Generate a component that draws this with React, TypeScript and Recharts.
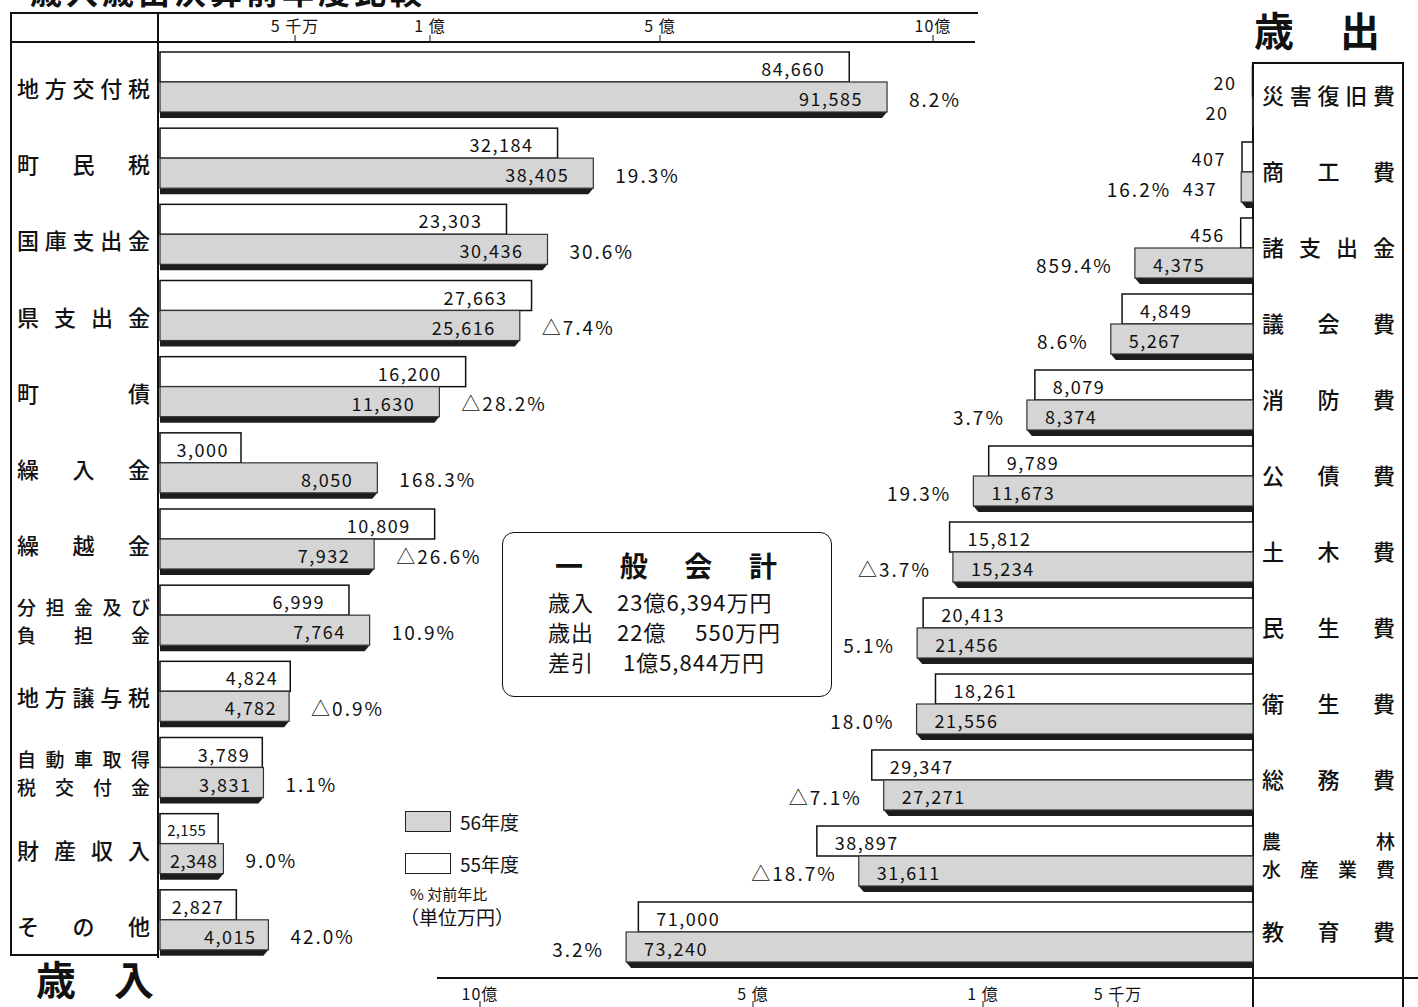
import { BarChart, Bar, XAxis, YAxis } from 'recharts';

// 歳入（万円）
const revenueNames = [
  '地方交付税', '町民税', '国庫支出金', '県支出金', '町債', '繰入金',
  '繰越金', '分担金及び\n負担金', '地方譲与税', '自動車取得\n税交付金', '財産収入', 'その他',
];
const revenue55 = [84660, 32184, 23303, 27663, 16200, 3000, 10809, 6999, 4824, 3789, 2155, 2827];
const revenue56 = [91585, 38405, 30436, 25616, 11630, 8050, 7932, 7764, 4782, 3831, 2348, 4015];
const revenueChange = ['8.2%', '19.3%', '30.6%', '△7.4%', '△28.2%', '168.3%', '△26.6%', '10.9%', '△0.9%', '1.1%', '9.0%', '42.0%'];

// 歳出（万円）
const expenseNames = [
  '災害復旧費', '商工費', '諸支出金', '議会費', '消防費', '公債費',
  '土木費', '民生費', '衛生費', '総務費', '農林\n水産業費', '教育費',
];
const expense55 = [20, 407, 456, 4849, 8079, 9789, 15812, 20413, 18261, 29347, 38897, 71000];
const expense56 = [20, 437, 4375, 5267, 8374, 11673, 15234, 21456, 21556, 27271, 31611, 73240];
const expenseChange = ['', '16.2%', '859.4%', '8.6%', '3.7%', '19.3%', '△3.7%', '5.1%', '18.0%', '△7.1%', '△18.7%', '3.2%'];

const tickValues = [5000, 10000, 50000, 100000];
const tickLabels = ['5 千万', '1 億', '5 億', '10億'];

const FONT = '"Noto Sans CJK JP", "Noto Sans", sans-serif';
const GRAY = '#d5d5d5';

// 原図の目盛りは区間ごとに縮尺が違う（〜1億 / 1億〜5億 / 5億〜）
const pos = (v: number) => {
  if (v <= 10000) return v * 0.027;
  if (v <= 50000) return 270 + (v - 10000) * 0.00575;
  return 500 + (v - 50000) * 0.00546;
};

const fmt = (v: number) => v.toLocaleString('en-US');

const makeRows = (names: string[], a: number[], b: number[], c: string[]) =>
  names.map((name, i) => ({ name, v55: a[i], v56: b[i], p55: pos(a[i]), p56: pos(b[i]), change: c[i] }));

const revenueRows = makeRows(revenueNames, revenue55, revenue56, revenueChange);
const expenseRows = makeRows(expenseNames, expense55, expense56, expenseChange);

const valueStyle = { fontFamily: FONT, fontSize: 18, letterSpacing: 1.5, fill: '#111' };
const pctStyle = { fontFamily: FONT, fontSize: 19, letterSpacing: 2, fill: '#111' };

const box = (props: any) => {
  const l = Math.min(props.x, props.x + props.width);
  const w = Math.abs(props.width);
  return { l, w, y: props.y, h: props.height, p: props.payload };
};

const LeftWhite = (props: any) => {
  const { l, w, y, h, p } = box(props);
  const small = w < 70;
  return (
    <g>
      <rect x={l} y={y} width={w} height={h} fill="#fff" stroke="#111" strokeWidth={1.5} />
      <text x={l + w - (w > 150 ? 24 : 12)} y={y + h / 2 + 1} textAnchor="end" dominantBaseline="central"
        style={{ ...valueStyle, fontSize: small ? 15 : 18, letterSpacing: small ? 0.3 : 1.5 }}>{fmt(p.v55)}</text>
    </g>
  );
};

const LeftGray = (props: any) => {
  const { l, w, y, h, p } = box(props);
  const small = w < 70;
  return (
    <g>
      <polygon points={`${l},${y + h} ${l + w},${y + h} ${l + w - 5},${y + h + 6} ${l},${y + h + 6}`} fill="#1c1c1c" />
      <rect x={l} y={y} width={w} height={h} fill={GRAY} stroke="#333" strokeWidth={1.2} />
      <text x={l + w - (w > 150 ? 24 : small ? 6 : 12)} y={y + h / 2 + 1} textAnchor="end" dominantBaseline="central"
        style={{ ...valueStyle, letterSpacing: small ? 0.5 : 1.5 }}>{fmt(p.v56)}</text>
      <text x={l + w + 22} y={y + h / 2 + 1} dominantBaseline="central" style={pctStyle}>{p.change}</text>
    </g>
  );
};

const RightWhite = (props: any) => {
  const { l, w, y, h, p } = box(props);
  const inside = w > 40;
  return (
    <g>
      <rect x={l} y={y} width={w} height={h} fill="#fff" stroke="#111" strokeWidth={1.5} />
      <text x={inside ? l + 18 : l - 16} y={y + h / 2 + 1} textAnchor={inside ? 'start' : 'end'} dominantBaseline="central" style={valueStyle}>{fmt(p.v55)}</text>
    </g>
  );
};

const RightGray = (props: any) => {
  const { l, w, y, h, p } = box(props);
  const inside = w > 40;
  return (
    <g>
      {w > 6 && <polygon points={`${l},${y + h} ${l + w},${y + h} ${l + w},${y + h + 6} ${l + 5},${y + h + 6}`} fill="#1c1c1c" />}
      <rect x={l} y={y} width={w} height={h} fill={GRAY} stroke="#333" strokeWidth={1.2} />
      <text x={inside ? l + 18 : l - 24} y={y + h / 2 + 1} textAnchor={inside ? 'start' : 'end'} dominantBaseline="central" style={valueStyle}>{fmt(p.v56)}</text>
      <text x={inside ? l - 22 : l - 70} y={y + h / 2 + 1} textAnchor="end" dominantBaseline="central" style={pctStyle}>{p.change}</text>
    </g>
  );
};

const CategoryTick = (left: number, dy: number) => (props: any) => {
  const lines = String(props.payload.value).split('\n');
  const two = lines.length > 1;
  return (
    <g>
      {lines.map((line, i) => (
        <text key={i} x={left} y={props.y + dy + (i - (lines.length - 1) / 2) * 28} dominantBaseline="central"
          textLength={133} lengthAdjust="spacing"
          style={{ fontFamily: FONT, fontSize: two ? 19 : 22, fontWeight: 500, fill: '#111' }}>{line}</text>
      ))}
    </g>
  );
};

const axisText = { fontFamily: FONT, fontSize: 16, letterSpacing: 1, fill: '#111' };

const TopTick = (props: any) => {
  const label = tickLabels[tickValues.findIndex((t) => pos(t) === props.payload.value)];
  return (
    <g>
      <text x={props.x} y={25} textAnchor="middle" dominantBaseline="central" style={axisText}>{label}</text>
      <line x1={props.x} x2={props.x} y1={35} y2={42} stroke="#111" strokeWidth={1} />
    </g>
  );
};

const BottomTick = (props: any) => {
  const label = tickLabels[tickValues.findIndex((t) => pos(t) === props.payload.value)];
  return (
    <g>
      <text x={props.x} y={993} textAnchor="middle" dominantBaseline="central" style={axisText}>{label}</text>
      <line x1={props.x} x2={props.x} y1={1001} y2={1007} stroke="#111" strokeWidth={1} />
    </g>
  );
};

const line = (left: number, top: number, width: number, height: number) => (
  <div style={{ position: 'absolute', left, top, width, height, background: '#111' }} />
);

const heading = { position: 'absolute' as const, fontSize: 40, fontWeight: 700 };

export default function App() {
  return (
    <div style={{ position: 'absolute', left: 0, top: 0, width: 1418, height: 1007, overflow: 'hidden', background: '#fff', fontFamily: FONT, color: '#111' }}>
      <div style={{ position: 'absolute', left: 30, top: -30, fontSize: 32, lineHeight: '40px', fontWeight: 700, letterSpacing: 4, whiteSpace: 'nowrap' }}>歳入歳出決算前年度比較</div>

      {/* frames */}
      {line(10, 12, 968, 2)}
      {line(10, 41, 965, 1.5)}
      {line(10, 12, 1.5, 944)}
      {line(157, 12, 1.5, 946)}
      {line(10, 954, 148, 1.5)}
      {line(1252, 62, 1.5, 945)}
      {line(1252, 62, 152, 1.5)}
      {line(1402, 62, 1.5, 945)}
      {line(437, 977, 981, 1.5)}

      <div style={{ position: 'absolute', left: 0, top: 0 }}>
        <BarChart width={1418} height={1007} data={revenueRows} layout="vertical"
          margin={{ top: 14, right: 443, bottom: 49, left: 10 }} barGap={0}>
          <XAxis type="number" orientation="top" domain={[0, 815]} ticks={tickValues.map(pos)} height={30}
            axisLine={false} tickLine={false} tick={TopTick} />
          <YAxis type="category" dataKey="name" width={150} axisLine={false} tickLine={false} interval={0}
            tick={CategoryTick(17, 5)} />
          <Bar dataKey="p55" barSize={30} isAnimationActive={false} shape={LeftWhite} />
          <Bar dataKey="p56" barSize={30} isAnimationActive={false} shape={LeftGray} />
        </BarChart>
      </div>

      <div style={{ position: 'absolute', left: 0, top: 0 }}>
        <BarChart width={1418} height={1007} data={expenseRows} layout="vertical"
          margin={{ top: 58, right: 0, bottom: 0, left: 437 }} barGap={0}>
          <XAxis type="number" orientation="bottom" reversed domain={[0, 816]} ticks={tickValues.map(pos)} height={37}
            axisLine={false} tickLine={false} tick={BottomTick} />
          <YAxis type="category" dataKey="name" orientation="right" width={165} axisLine={false} tickLine={false} interval={0}
            tick={CategoryTick(1262, -2)} />
          <Bar dataKey="p55" barSize={30} isAnimationActive={false} shape={RightWhite} />
          <Bar dataKey="p56" barSize={30} isAnimationActive={false} shape={RightGray} />
        </BarChart>
      </div>

      {/* headings */}
      <div style={{ ...heading, left: 1254, top: 0, lineHeight: '58px' }}>歳</div>
      <div style={{ ...heading, left: 1340, top: 0, lineHeight: '58px' }}>出</div>
      <div style={{ ...heading, left: 36, top: 949, lineHeight: '58px' }}>歳</div>
      <div style={{ ...heading, left: 114, top: 949, lineHeight: '58px' }}>入</div>

      {/* 一般会計 box */}
      <div style={{ position: 'absolute', left: 502, top: 532, width: 330, height: 165, border: '1.5px solid #111', borderRadius: 12, boxSizing: 'border-box' }}>
        <div style={{ position: 'absolute', left: 52, top: 12, width: 222, fontSize: 28, fontWeight: 700, textAlignLast: 'justify' }}>一般会計</div>
        <div style={{ position: 'absolute', left: 45, top: 53, fontSize: 22, letterSpacing: 1, lineHeight: '30px', whiteSpace: 'pre' }}>
          {'歳入　23億6,394万円\n歳出　22億　 550万円\n差引　 1億5,844万円'}
        </div>
      </div>

      {/* legend */}
      <div style={{ position: 'absolute', left: 405, top: 811, width: 44, height: 19, background: GRAY, border: '1.5px solid #222' }} />
      <div style={{ position: 'absolute', left: 460, top: 808, fontSize: 19 }}>56年度</div>
      <div style={{ position: 'absolute', left: 405, top: 853, width: 44, height: 19, background: '#fff', border: '1.5px solid #222' }} />
      <div style={{ position: 'absolute', left: 460, top: 850, fontSize: 19 }}>55年度</div>
      <div style={{ position: 'absolute', left: 410, top: 883, fontSize: 15 }}>% 対前年比</div>
      <div style={{ position: 'absolute', left: 400, top: 903, fontSize: 19, whiteSpace: 'nowrap' }}>（単位万円）</div>
    </div>
  );
}
